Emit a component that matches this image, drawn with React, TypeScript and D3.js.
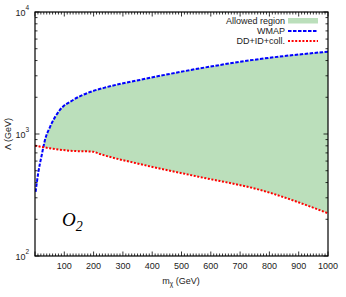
import React from "react";
import * as d3 from "d3";

// WMAP relic-density curve (m_chi [GeV], Lambda [GeV])
const wmapMass = [2, 11, 23, 34, 51, 85, 130, 188, 246, 358, 563, 768, 1000];
const wmapLambda = [336, 479, 673, 893, 1140, 1574, 1900, 2208, 2427, 2775, 3452, 4120, 4730];
// DD+ID+collider bound
const ddMass = [0, 51, 119, 198, 222, 358, 563, 768, 1000];
const ddLambda = [802, 764, 729, 716, 685, 567, 444, 348, 224];

const xMajorTicks = [100, 200, 300, 400, 500, 600, 700, 800, 900, 1000];
const yMajorTicks = [100, 1000, 10000];
const yExponents = ["2", "3", "4"];
const legendLabels = ["Allowed region", "WMAP", "DD+ID+coll."];

const W = 346, H = 297;
const L = 35, R = 328, T = 12, B = 256;

export default function App() {
  const x = d3.scaleLinear().domain([0, 1000]).range([L, R]);
  const y = d3.scaleLog().domain([100, 10000]).range([B, T]);

  const wmap = wmapMass.map((m, i) => [m, wmapLambda[i]] as [number, number]);
  const dd = ddMass.map((m, i) => [m, ddLambda[i]] as [number, number]);

  const line = d3.line<[number, number]>().x(d => x(d[0])).y(d => y(d[1])).curve(d3.curveMonotoneX);
  const areaBelowBlue = d3.area<[number, number]>().x(d => x(d[0])).y0(B).y1(d => y(d[1])).curve(d3.curveMonotoneX);
  const areaAboveRed = d3.area<[number, number]>().x(d => x(d[0])).y0(T).y1(d => y(d[1])).curve(d3.curveMonotoneX);

  const xMinor = d3.range(0, 1001, 10);
  const yMinor: number[] = [];
  [100, 1000].forEach(dec => { for (let k = 2; k <= 9; k++) yMinor.push(dec * k); });

  const font = "'Liberation Sans', Arial, Helvetica, sans-serif";
  const green = "#bbdfbb";

  return (
    <svg width={W} height={H} style={{ display: "block", position: "absolute", left: 0, top: 0 }}>
      <defs>
        <clipPath id="aboveRed">
          <path d={areaAboveRed(dd) || ""} />
        </clipPath>
        <clipPath id="plot">
          <rect x={L} y={T} width={R - L} height={B - T} />
        </clipPath>
      </defs>
      <rect width={W} height={H} fill="white" />
      <g clipPath="url(#plot)">
        <g clipPath="url(#aboveRed)">
          <path d={areaBelowBlue(wmap) || ""} fill={green} />
        </g>
        <path d={line(wmap) || ""} fill="none" stroke="#0000ff" strokeWidth={2} strokeDasharray="3.5,1.5" />
        <path d={line(dd) || ""} fill="none" stroke="#ff0000" strokeWidth={2} strokeDasharray="2,1.6" />
      </g>
      {/* ticks */}
      <g stroke="black" strokeWidth={0.8}>
        {xMinor.map(v => {
          const len = v % 100 === 0 ? 4.5 : 2.5;
          return (
            <g key={"xm" + v}>
              <line x1={x(v)} x2={x(v)} y1={B} y2={B - len} />
              <line x1={x(v)} x2={x(v)} y1={T} y2={T + len} />
            </g>
          );
        })}
        {yMinor.map(v => (
          <g key={"ym" + v}>
            <line x1={L} x2={L + 2.5} y1={y(v)} y2={y(v)} />
            <line x1={R} x2={R - 2.5} y1={y(v)} y2={y(v)} />
          </g>
        ))}
        {yMajorTicks.map(v => (
          <g key={"yM" + v}>
            <line x1={L} x2={L + 4.5} y1={y(v)} y2={y(v)} />
            <line x1={R} x2={R - 4.5} y1={y(v)} y2={y(v)} />
          </g>
        ))}
      </g>
      <rect x={L} y={T} width={R - L} height={B - T} fill="none" stroke="black" strokeWidth={1.2} />
      {/* tick labels */}
      <g fontFamily={font} fontSize={9} fill="#222">
        {xMajorTicks.map(v => (
          <text key={"xl" + v} x={x(v)} y={269} textAnchor="middle">{v}</text>
        ))}
        {yMajorTicks.map((v, i) => (
          <text key={"yl" + v} x={25.5} y={y(v) + 3.5} textAnchor="end">
            10
          </text>
        ))}
        {yMajorTicks.map((v, i) => (
          <text key={"ye" + v} x={25.5} y={y(v) - 2.5} fontSize={6.5} textAnchor="start">
            {yExponents[i]}
          </text>
        ))}
        <text x={181} y={284} textAnchor="middle">
          m<tspan fontSize={6.5} dy={2}>χ</tspan><tspan dy={-2}> (GeV)</tspan>
        </text>
        <text transform={`translate(11,134) rotate(-90)`} textAnchor="middle">Λ (GeV)</text>
      </g>
      {/* legend */}
      <g fontFamily={font} fontSize={9} fill="#222">
        {legendLabels.map((t, i) => (
          <text key={t} x={285} y={21 + i * 10 + 3} textAnchor="end">{t}</text>
        ))}
        <rect x={288} y={18} width={30} height={5.5} fill={green} />
        <line x1={288} x2={318} y1={31} y2={31} stroke="#0000ff" strokeWidth={2} strokeDasharray="3.5,1.5" />
        <line x1={288} x2={318} y1={41} y2={41} stroke="#ff0000" strokeWidth={2} strokeDasharray="2,1.6" />
      </g>
      {/* operator label */}
      <text x={62} y={226} fontFamily="'Liberation Serif', 'Times New Roman', serif" fontStyle="italic" fontSize={19} fill="black">
        O<tspan fontSize={14} dy={5}>2</tspan>
      </text>
    </svg>
  );
}
